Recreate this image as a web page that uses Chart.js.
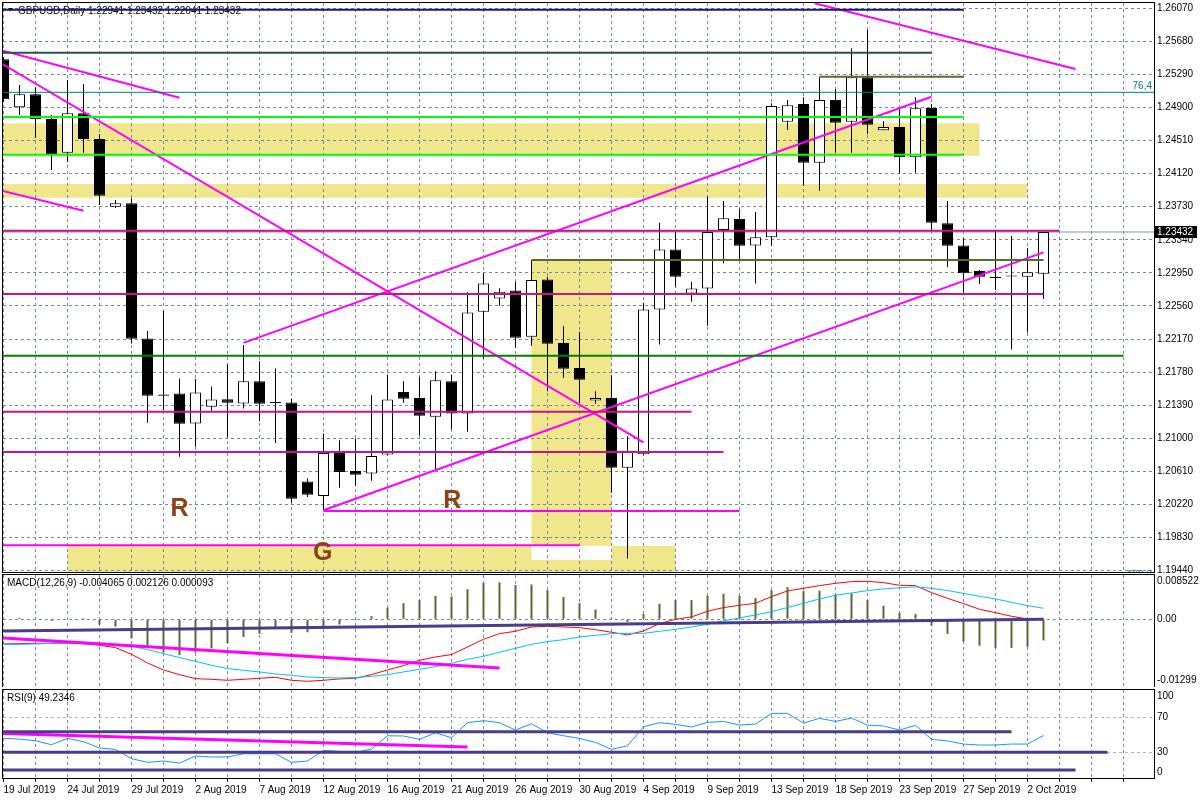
<!DOCTYPE html>
<html>
<head>
<meta charset="utf-8">
<script src="https://cdn.jsdelivr.net/npm/chart.js@4.4.1/dist/chart.umd.min.js"></script>
<style>
  html, body { margin: 0; padding: 0; background: #fff; }
  #wrap { position: relative; width: 1200px; height: 800px; overflow: hidden; background: #fff; }
  canvas { position: absolute; left: 0; }
</style>
</head>
<body>
<div id="wrap">
  <canvas id="price" width="1200" height="575" style="top:0"></canvas>
  <canvas id="macd" width="1200" height="114" style="top:573px"></canvas>
  <canvas id="rsi" width="1200" height="112" style="top:688px"></canvas>
</div>
<script>
// ---- data ----
const dates = ['19 Jul 2019','21 Jul 2019','22 Jul 2019','23 Jul 2019','24 Jul 2019','25 Jul 2019','26 Jul 2019','28 Jul 2019','29 Jul 2019','30 Jul 2019','31 Jul 2019','1 Aug 2019','2 Aug 2019','4 Aug 2019','5 Aug 2019','6 Aug 2019','7 Aug 2019','8 Aug 2019','9 Aug 2019','11 Aug 2019','12 Aug 2019','13 Aug 2019','14 Aug 2019','15 Aug 2019','16 Aug 2019','18 Aug 2019','19 Aug 2019','20 Aug 2019','21 Aug 2019','22 Aug 2019','23 Aug 2019','25 Aug 2019','26 Aug 2019','27 Aug 2019','28 Aug 2019','29 Aug 2019','30 Aug 2019','1 Sep 2019','2 Sep 2019','3 Sep 2019','4 Sep 2019','5 Sep 2019','6 Sep 2019','8 Sep 2019','9 Sep 2019','10 Sep 2019','11 Sep 2019','12 Sep 2019','13 Sep 2019','15 Sep 2019','16 Sep 2019','17 Sep 2019','18 Sep 2019','19 Sep 2019','20 Sep 2019','22 Sep 2019','23 Sep 2019','24 Sep 2019','25 Sep 2019','26 Sep 2019','27 Sep 2019','29 Sep 2019','30 Sep 2019','1 Oct 2019','2 Oct 2019','3 Oct 2019'];

const opens = [1.25468,1.24902,1.25055,1.24764,1.24367,1.24831,1.24528,1.23730,1.23770,1.22177,1.21516,1.21528,1.21174,1.21370,1.21461,1.21410,1.21673,1.21428,1.21422,1.20490,1.20320,1.20827,1.20612,1.20584,1.20809,1.21544,1.21473,1.21252,1.21673,1.21292,1.22491,1.22649,1.22743,1.22196,1.22873,1.22122,1.21827,1.21446,1.21473,1.20651,1.20812,1.22519,1.23227,1.22708,1.22767,1.23455,1.23584,1.23274,1.23369,1.24732,1.24941,1.24249,1.24988,1.24732,1.25256,1.24631,1.24670,1.24312,1.24894,1.23534,1.23274,1.22971,1.22904,1.22918,1.22904,1.22941];
const highs = [1.25495,1.25165,1.25138,1.24811,1.25224,1.25177,1.24584,1.23809,1.23829,1.22263,1.22499,1.21705,1.21697,1.21611,1.21874,1.22098,1.21909,1.21823,1.21469,1.20525,1.21056,1.20977,1.20997,1.21508,1.21752,1.21673,1.21724,1.21791,1.21752,1.22720,1.22944,1.22770,1.22845,1.23101,1.22904,1.22322,1.22255,1.21555,1.21744,1.21024,1.22597,1.23541,1.23435,1.22845,1.23847,1.23797,1.23702,1.23667,1.24949,1.24988,1.25020,1.25256,1.25114,1.25598,1.25814,1.24740,1.24890,1.25020,1.24941,1.23797,1.23357,1.22983,1.23443,1.23384,1.23239,1.23432];
const lows = [1.24965,1.24811,1.24544,1.24162,1.24257,1.24367,1.23750,1.23714,1.22118,1.21181,1.21331,1.20780,1.20898,1.21323,1.21009,1.21351,1.21201,1.20945,1.20238,1.20308,1.20151,1.20415,1.20438,1.20497,1.20800,1.21417,1.21036,1.20632,1.21107,1.21075,1.21941,1.22562,1.22066,1.22090,1.21555,1.21712,1.21414,1.21406,1.20356,1.19582,1.20800,1.22106,1.22786,1.22609,1.22326,1.23062,1.23101,1.22826,1.23269,1.24634,1.23977,1.23918,1.24367,1.24367,1.24587,1.24631,1.24124,1.24131,1.23455,1.23015,1.22715,1.22818,1.22747,1.22047,1.22248,1.22641];
const closes = [1.24996,1.25055,1.24761,1.24351,1.24831,1.24528,1.23859,1.23770,1.22172,1.21500,1.21500,1.21170,1.21540,1.21457,1.21417,1.21673,1.21406,1.21416,1.20285,1.20332,1.20827,1.20603,1.20568,1.20789,1.21457,1.21465,1.21264,1.21685,1.21292,1.22484,1.22826,1.22727,1.22184,1.22865,1.22113,1.21818,1.21689,1.21473,1.20651,1.20848,1.22519,1.23227,1.22904,1.22767,1.23431,1.23593,1.23269,1.23369,1.24917,1.24926,1.24249,1.24988,1.24720,1.25256,1.24697,1.24670,1.24312,1.24890,1.23541,1.23269,1.22944,1.22904,1.22888,1.22906,1.22956,1.23432];

const macdHist = [0.0000,0.0003,0.0001,-0.0003,0.0001,0.0002,-0.0010,-0.0014,-0.0037,-0.0052,-0.0064,-0.0069,-0.0064,-0.0056,-0.0046,-0.0034,-0.0028,-0.0016,-0.0026,-0.0025,-0.0015,-0.0010,-0.0002,0.0006,0.0022,0.0031,0.0037,0.0045,0.0044,0.0058,0.0070,0.0071,0.0066,0.0067,0.0056,0.0043,0.0031,0.0019,0.0002,-0.0005,0.0010,0.0030,0.0037,0.0037,0.0045,0.0049,0.0045,0.0041,0.0056,0.0062,0.0055,0.0055,0.0048,0.0050,0.0037,0.0026,0.0012,0.0010,-0.0012,-0.0028,-0.0043,-0.0051,-0.0055,-0.0055,-0.0053,-0.004065];
const macdSignal = [-0.00488,-0.00482,-0.00475,-0.00462,-0.00456,-0.00469,-0.00482,-0.00494,-0.00520,-0.00584,-0.00661,-0.00738,-0.00809,-0.00886,-0.00950,-0.00982,-0.01014,-0.01053,-0.01079,-0.01111,-0.01124,-0.01130,-0.01124,-0.01098,-0.01066,-0.01014,-0.00963,-0.00912,-0.00847,-0.00770,-0.00713,-0.00636,-0.00559,-0.00482,-0.00430,-0.00392,-0.00340,-0.00308,-0.00276,-0.00270,-0.00270,-0.00231,-0.00193,-0.00148,-0.00096,-0.00032,0.00026,0.00083,0.00148,0.00225,0.00308,0.00392,0.00462,0.00507,0.00552,0.00584,0.00610,0.00623,0.00597,0.00552,0.00500,0.00443,0.00392,0.00327,0.00263,0.002126];
const macdMain = [-0.00475,-0.00469,-0.00462,-0.00462,-0.00456,-0.00469,-0.00500,-0.00546,-0.00674,-0.00841,-0.00976,-0.01066,-0.01143,-0.01156,-0.01175,-0.01156,-0.01136,-0.01117,-0.01175,-0.01194,-0.01175,-0.01149,-0.01136,-0.01066,-0.00976,-0.00892,-0.00790,-0.00725,-0.00680,-0.00533,-0.00385,-0.00276,-0.00231,-0.00148,-0.00135,-0.00148,-0.00160,-0.00200,-0.00250,-0.00300,-0.00225,-0.00083,0.00000,0.00045,0.00154,0.00225,0.00270,0.00308,0.00437,0.00546,0.00597,0.00648,0.00693,0.00725,0.00732,0.00706,0.00655,0.00648,0.00514,0.00404,0.00302,0.00193,0.00128,0.00058,0.00006,0.000093];
const rsi = [45.9,45.1,43.2,38.6,45.9,42.1,34.9,33.3,22.7,18.5,20.0,17.7,25.7,24.6,24.6,28.3,28.3,28.3,18.5,20.0,32.2,31.0,30.0,33.7,48.9,48.6,44.8,52.3,46.6,63.8,66.1,63.8,55.4,62.6,52.3,48.9,45.9,41.3,33.3,37.5,59.2,63.8,61.9,58.9,64.2,65.3,61.1,62.3,74.5,74.5,63.4,68.8,65.3,69.1,61.1,60.0,55.4,60.8,44.8,42.9,39.4,38.3,38.3,39.4,39.4,49.2346];

// price axis tick labels
const priceTicks = [1.19440,1.19830,1.20220,1.20610,1.21000,1.21390,1.21780,1.22170,1.22560,1.22950,1.23340,1.23730,1.24120,1.24510,1.24900,1.25290,1.25680,1.26070];
const macdAxisLabels = ['0.008522', '0.00', '-0.01299'];
const macdLabelAt = [0.00724, 0, -0.01183];
const rsiAxisLabels = ['100', '70', '30', '0'];
const rsiLabelAt = [94.3, 70, 30, 7.1];

// objects drawn on the chart (bar index, price)
const levels = [
  { price: 1.26054, from: -1, to: 60, look: 'navy' },
  { price: 1.25546, from: -1, to: 58, look: 'slate' },
  { price: 1.25079, from: -1, to: 80, look: 'fibo' },
  { price: 1.24788, from: -1, to: 60, look: 'lime' },
  { price: 1.24343, from: -1, to: 60, look: 'lime' },
  { price: 1.23446, from: -1, to: 66, look: 'violet' },
  { price: 1.22700, from: -1, to: 65, look: 'violet' },
  { price: 1.23101, from: 33, to: 65, look: 'olive' },
  { price: 1.25263, from: 51, to: 60, look: 'olive' },
  { price: 1.21972, from: -1, to: 70, look: 'green' },
  { price: 1.21311, from: -1, to: 43, look: 'violet' },
  { price: 1.20836, from: -1, to: 45, look: 'violet' },
  { price: 1.20143, from: 20, to: 46, look: 'magenta' },
  { price: 1.19739, from: -1, to: 36, look: 'magenta' }
];
const trends = [
  [-0.04, 1.25570, 11, 1.25015],
  [-0.04, 1.25409, 40, 1.20950],
  [-0.08, 1.23918, 5, 1.23682],
  [15, 1.22125, 58, 1.25027],
  [20, 1.20151, 65, 1.23192],
  [50.7, 1.26129, 67, 1.25354]
];
const zones = [
  [-1, 61, 1.24713, 1.24331],
  [-1, 64, 1.23997, 1.23836],
  [33, 38, 1.23101, 1.19565],
  [4, 42, 1.19731, 1.18000]
];
const marks = [['R', 11, 1.20167], ['R', 28.05, 1.20258], ['G', 19.95, 1.19642]];
const macdTrends = [[-0.08, -0.00225, 65, 0, 'navy'], [-0.08, -0.00360, 31, -0.00937, 'magenta']];
const rsiLevels = [[53.5, -1, 63], [30, -1, 69], [9.7, -1, 67]];
const rsiTrend = [-0.08, 51.6, 29, 36];

// ---- styling ----
Chart.defaults.font.family = "'Liberation Sans', Arial, sans-serif";
Chart.defaults.font.size = 10;
Chart.defaults.color = '#000';
Chart.defaults.animation = false;
Chart.defaults.events = [];
Chart.defaults.plugins.legend.display = false;
Chart.defaults.plugins.tooltip.enabled = false;

const GRID = '#778899';
const X_MIN = -0.03125, X_MAX = 71.90625;
const gridTicks = Array.from({ length: 36 }, (_, k) => 2 * k);
const looks = {
  navy: ['#191970', 2], slate: ['#2f4f4f', 2], fibo: ['#008080', 1], lime: ['#00ff00', 2],
  violet: ['#c71585', 2], olive: ['#556b2f', 2], green: ['#008000', 2], magenta: ['#ff00ff', 2]
};
const last = closes.length - 1;
const bars = dates.map((_, i) => i);

function seg(x1, y1, x2, y2, color, width, order) {
  return { type: 'line', data: [{ x: x1, y: y1 }, { x: x2, y: y2 }], borderColor: color, borderWidth: width,
    pointRadius: 0, fill: false, tension: 0, order: order === undefined ? 1 : order };
}

function xAxis(showLabels) {
  return {
    type: 'linear', min: X_MIN, max: X_MAX, offset: false,
    grid: { color: GRID, offset: false, drawTicks: showLabels, tickLength: 4, tickColor: '#000', tickBorderDash: [] },
    border: { display: false, dash: [3, 3] },
    ticks: { display: showLabels, autoSkip: false, maxRotation: 0, minRotation: 0, align: 'start', padding: 2,
      callback: v => (v % 4 === 0 && v < dates.length) ? dates[v] : '' },
    afterBuildTicks: s => { s.ticks = gridTicks.map(v => ({ value: v })); },
    afterFit: s => { s.height = showLabels ? 22 : 0; s.paddingLeft = 0; s.paddingRight = 0; }
  };
}

function yAxis(min, max, at, label, gridColor) {
  return {
    position: 'right', min, max,
    grid: { color: gridColor || GRID, drawTicks: false },
    border: { display: false, dash: [3, 3] },
    ticks: { padding: 3, autoSkip: false, callback: label },
    afterBuildTicks: s => { s.ticks = at.map(v => ({ value: v })); },
    afterFit: s => { s.width = 46; s.paddingTop = 0; s.paddingBottom = 0; }
  };
}

function frame(chart) {
  const { ctx, chartArea: a } = chart;
  ctx.save();
  ctx.strokeStyle = '#000';
  ctx.lineWidth = 1;
  ctx.strokeRect(a.left - 0.5, a.top - 0.5, a.width + 1, a.height + 1);
  ctx.restore();
}

function caption(chart, text, x) {
  const { ctx, chartArea: a } = chart;
  ctx.save();
  ctx.font = "10px 'Liberation Sans', Arial, sans-serif";
  ctx.fillStyle = '#000';
  ctx.textBaseline = 'middle';
  ctx.fillText(text, a.left + x, a.top + 8);
  ctx.restore();
}

// ---- price panel ----
const pricePlugin = {
  id: 'pricePanel',
  beforeDraw(chart) {
    const { ctx, chartArea: a, scales: { x, y } } = chart;
    ctx.save();
    ctx.beginPath(); ctx.rect(a.left, a.top, a.width, a.height); ctx.clip();
    const rect = z => {
      const l = x.getPixelForValue(z[0]), r = x.getPixelForValue(z[1]);
      const t = y.getPixelForValue(Math.max(z[2], z[3])), b = y.getPixelForValue(Math.min(z[2], z[3]));
      return { l, r, t, b };
    };
    ctx.fillStyle = '#f0e68c';
    zones.forEach(z => { const q = rect(z); ctx.fillRect(q.l, q.t, q.r - q.l, q.b - q.t); });
    // overlapping rectangles cancel each other out
    ctx.fillStyle = '#fff';
    for (let i = 0; i < zones.length; i++) {
      for (let j = i + 1; j < zones.length; j++) {
        const p = rect(zones[i]), q = rect(zones[j]);
        const l = Math.max(p.l, q.l), r = Math.min(p.r, q.r), t = Math.max(p.t, q.t), b = Math.min(p.b, q.b);
        if (r > l && b > t) ctx.fillRect(l, t, r - l, b - t);
      }
    }
    ctx.restore();
  },
  beforeDatasetsDraw(chart) {
    const { ctx, chartArea: a } = chart;
    ctx.save();
    ctx.fillStyle = '#000';
    ctx.beginPath();
    ctx.moveTo(a.left + 5, a.top + 5); ctx.lineTo(a.left + 10, a.top + 5); ctx.lineTo(a.left + 7.5, a.top + 8.5);
    ctx.fill();
    ctx.restore();
    caption(chart, 'GBPUSD,Daily ' + [opens[last], highs[last], lows[last], closes[last]].map(v => v.toFixed(5)).join(' '), 15);
  },
  afterDatasetsDraw(chart) {
    const { ctx, chartArea: a, scales: { x, y } } = chart;
    ctx.save();
    ctx.beginPath(); ctx.rect(a.left, a.top, a.width, a.height); ctx.clip();
    ctx.font = "bold 25px 'Liberation Sans', Arial, sans-serif";
    ctx.fillStyle = '#8b4513';
    ctx.textAlign = 'center';
    ctx.textBaseline = 'middle';
    marks.forEach(m => ctx.fillText(m[0], x.getPixelForValue(m[1]), y.getPixelForValue(m[2])));
    ctx.font = "10px 'Liberation Sans', Arial, sans-serif";
    ctx.fillStyle = '#008080';
    ctx.textAlign = 'right';
    ctx.textBaseline = 'bottom';
    const fib = levels.find(l => l.look === 'fibo');
    ctx.fillText('76,4', a.right - 2, y.getPixelForValue(fib.price) - 1);
    ctx.fillText('100,0', a.right - 2, a.bottom + 8);
    ctx.restore();
  },
  afterDraw(chart) {
    frame(chart);
    const { ctx, chartArea: a, scales: { y } } = chart;
    const py = Math.round(y.getPixelForValue(closes[last]));
    ctx.save();
    ctx.fillStyle = '#000';
    ctx.fillRect(a.right + 1, py - 6, 42, 12);
    ctx.fillStyle = '#fff';
    ctx.font = "10px 'Liberation Sans', Arial, sans-serif";
    ctx.textBaseline = 'middle';
    ctx.fillText(closes[last].toFixed(5), a.right + 3, py);
    ctx.restore();
  }
};

const priceSets = [];
levels.forEach(l => priceSets.push(seg(l.from, l.price, l.to, l.price, looks[l.look][0], looks[l.look][1])));
trends.forEach(t => priceSets.push(seg(t[0], t[1], t[2], t[3], looks.magenta[0], 2)));
priceSets.push(seg(-1, closes[last], 80, closes[last], '#8593a3', 1, 4));
priceSets.push({
  type: 'bar', order: 2, grouped: false, barThickness: 11, inflateAmount: 0, minBarLength: 1,
  borderColor: '#000', borderWidth: 1, borderSkipped: false,
  backgroundColor: bars.map(i => closes[i] >= opens[i] ? '#fff' : '#000'),
  data: bars.map(i => ({ x: i, y: [opens[i], closes[i]] }))
});
priceSets.push({
  type: 'bar', order: 3, grouped: false, barThickness: 1, inflateAmount: 0, borderWidth: 0,
  backgroundColor: '#000',
  data: bars.map(i => ({ x: i, y: [lows[i], highs[i]] }))
});

new Chart(document.getElementById('price'), {
  type: 'bar',
  data: { datasets: priceSets },
  options: {
    responsive: false,
    layout: { padding: { left: 3, top: 3, right: 0, bottom: 3 } },
    scales: {
      x: xAxis(false),
      y: yAxis(1.194223, 1.261325, priceTicks, v => v.toFixed(5))
    }
  },
  plugins: [pricePlugin]
});

// ---- MACD panel ----
const macdSets = [
  { type: 'bar', order: 3, grouped: false, barThickness: 2, inflateAmount: 0, borderWidth: 0,
    backgroundColor: '#556b2f', data: bars.map(i => ({ x: i, y: macdHist[i] })) },
  { type: 'line', order: 2, borderColor: '#00bfff', borderWidth: 1, pointRadius: 0, tension: 0,
    data: bars.map(i => ({ x: i, y: macdSignal[i] })) },
  { type: 'line', order: 2, borderColor: '#ff0000', borderWidth: 1, pointRadius: 0, tension: 0,
    data: bars.map(i => ({ x: i, y: macdMain[i] })) }
];
macdTrends.forEach(t => macdSets.push(seg(t[0], t[1], t[2], t[3], t[4] === 'navy' ? '#483d8b' : '#ff00ff', 3)));

new Chart(document.getElementById('macd'), {
  type: 'bar',
  data: { datasets: macdSets },
  options: {
    responsive: false,
    layout: { padding: { left: 3, top: 2, right: 0, bottom: 0 } },
    scales: {
      x: xAxis(false),
      y: yAxis(-0.01304, 0.00853, macdLabelAt, (v, i) => macdAxisLabels[i],
        c => c.tick && c.tick.value === 0 ? GRID : 'rgba(0,0,0,0)')
    }
  },
  plugins: [{
    id: 'macdPanel',
    beforeDatasetsDraw(chart) {
      caption(chart, 'MACD(12,26,9) ' + macdHist[last].toFixed(6) + ' ' + macdSignal[last].toFixed(6) + ' ' + macdMain[last].toFixed(6), 4);
    },
    afterDraw: frame
  }]
});

// ---- RSI panel ----
const rsiSets = [
  { type: 'line', order: 2, borderColor: '#1e90ff', borderWidth: 1, pointRadius: 0, tension: 0,
    data: bars.map(i => ({ x: i, y: rsi[i] })) }
];
rsiLevels.forEach(l => rsiSets.push(seg(l[1], l[0], l[2], l[0], '#483d8b', 3)));
rsiSets.push(seg(rsiTrend[0], rsiTrend[1], rsiTrend[2], rsiTrend[3], '#ff00ff', 3));

new Chart(document.getElementById('rsi'), {
  type: 'line',
  data: { datasets: rsiSets },
  options: {
    responsive: false,
    layout: { padding: { left: 3, top: 2, right: 0, bottom: 0 } },
    scales: {
      x: xAxis(true),
      y: yAxis(0.6, 101.2, rsiLabelAt, (v, i) => rsiAxisLabels[i],
        c => c.tick && (c.tick.value === 70 || c.tick.value === 30) ? '#b4b4b4' : 'rgba(0,0,0,0)')
    }
  },
  plugins: [{
    id: 'rsiPanel',
    beforeDatasetsDraw(chart) { caption(chart, 'RSI(9) ' + rsi[last].toFixed(4), 4); },
    afterDraw: frame
  }]
});
</script>
</body>
</html>
